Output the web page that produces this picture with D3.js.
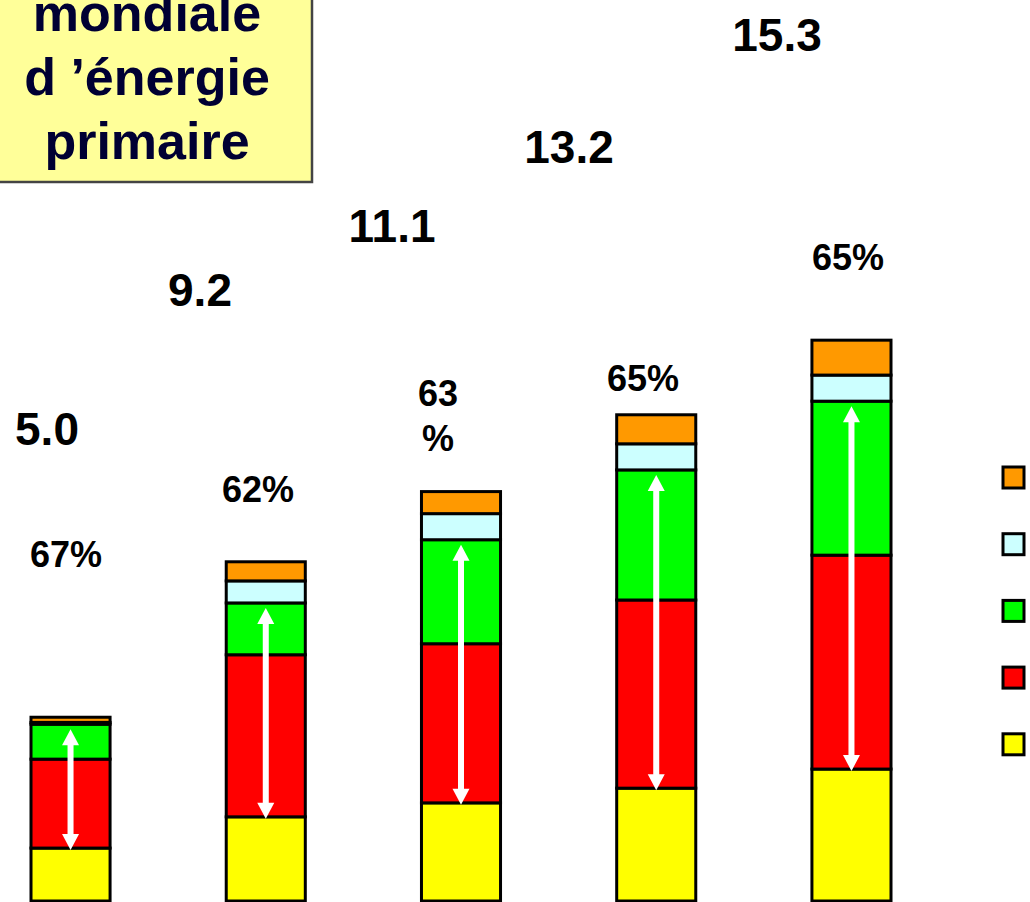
<!DOCTYPE html>
<html>
<head>
<meta charset="utf-8">
<script src="https://cdn.jsdelivr.net/npm/d3@7"></script>
<style>
  html, body { margin: 0; padding: 0; background: #ffffff; }
  svg { display: block; }
</style>
</head>
<body>
<svg id="chart" width="1030" height="902"></svg>
<script>
// ---- Data (Gtep) ----
const categories = ["1971", "2000", "2010", "2020", "2030"];
const seriesNames = ["Charbon", "Pétrole", "Gaz", "Nucléaire", "Hydro / renouvelables"];
const charbon     = [1.44, 2.29, 2.67, 3.07, 3.59];
const petrole     = [2.42, 4.41, 4.33, 5.12, 5.82];
const gaz         = [0.95, 1.41, 2.83, 3.54, 4.19];
const nucleaire   = [0.05, 0.60, 0.71, 0.71, 0.71];
const renouvel    = [0.14, 0.52, 0.60, 0.79, 0.95];
const totalLabels = ["5.0", "9.2", "11.1", "13.2", "15.3"];
const shareLabels = [["67%"], ["62%"], ["63", "%"], ["65%"], ["65%"]];
const titleLines  = ["mondiale", "d \u2019énergie", "primaire"];

// ---- Layout / style (kept apart from data) ----
const colors = ["#ffff00", "#ff0000", "#00ff00", "#ccffff", "#ff9900"];
// annotation anchor positions (px) for the free-floating labels
const totalPos = [[47, 445], [200, 306], [392, 242], [569, 163], [777, 51]];
const sharePos = [[66, 567], [258, 502], [438, 406], [643, 391], [848, 270]];

const svg = d3.select("#chart");

// ---- Title box ----
const tg = svg.append("g");
tg.append("rect")
  .attr("x", -10).attr("y", -10).attr("width", 322).attr("height", 192)
  .attr("fill", "#ffff99").attr("stroke", "#444444").attr("stroke-width", 2.5);
tg.selectAll("text").data(titleLines).join("text")
  .attr("x", 147).attr("y", (d, i) => 31 + i * 64)
  .attr("text-anchor", "middle")
  .attr("font-family", "Liberation Sans, Arial, sans-serif")
  .attr("font-weight", "bold").attr("font-size", 52)
  .attr("fill", "#000033")
  .text(d => d);

// ---- Scales ----
const x = d3.scaleBand().domain(categories).range([31, 891]).paddingInner(0.595).paddingOuter(0);
const y = d3.scaleLinear().domain([0, 15.3]).range([901, 338.7]);

const rows = categories.map((c, i) => ({
  cat: c,
  [seriesNames[0]]: charbon[i],
  [seriesNames[1]]: petrole[i],
  [seriesNames[2]]: gaz[i],
  [seriesNames[3]]: nucleaire[i],
  [seriesNames[4]]: renouvel[i]
}));
const stacked = d3.stack().keys(seriesNames)(rows);

// ---- Bars ----
const bars = svg.append("g");
bars.selectAll("g").data(stacked).join("g")
  .attr("fill", (d, i) => colors[i])
  .selectAll("rect").data(d => d).join("rect")
  .attr("x", d => x(d.data.cat))
  .attr("width", x.bandwidth())
  .attr("y", d => y(d[1]))
  .attr("height", d => y(d[0]) - y(d[1]))
  .attr("stroke", "#000").attr("stroke-width", 3);

// ---- Double arrows over oil + gas ----
const ag = svg.append("g");
categories.forEach((c, i) => {
  const cx = x(c) + x.bandwidth() / 2;
  const yTop = y(charbon[i] + petrole[i] + gaz[i]) + 5;
  const yBot = y(charbon[i]) + 2;
  const hh = 16, hw = 8.5;
  ag.append("rect")
    .attr("x", cx - 3).attr("y", yTop + hh - 1)
    .attr("width", 6).attr("height", yBot - yTop - 2 * hh + 2)
    .attr("fill", "#ffffff");
  ag.append("path")
    .attr("d", `M${cx},${yTop} L${cx - hw},${yTop + hh} L${cx + hw},${yTop + hh} Z`)
    .attr("fill", "#ffffff");
  ag.append("path")
    .attr("d", `M${cx},${yBot} L${cx - hw},${yBot - hh} L${cx + hw},${yBot - hh} Z`)
    .attr("fill", "#ffffff");
});

// ---- Total labels ----
svg.append("g").selectAll("text").data(totalLabels).join("text")
  .attr("x", (d, i) => totalPos[i][0]).attr("y", (d, i) => totalPos[i][1])
  .attr("text-anchor", "middle")
  .attr("font-family", "Liberation Sans, Arial, sans-serif")
  .attr("font-weight", "bold").attr("font-size", 46)
  .attr("fill", "#000")
  .text(d => d);

// ---- Share labels ----
const sg = svg.append("g");
shareLabels.forEach((lines, i) => {
  lines.forEach((t, j) => {
    sg.append("text")
      .attr("x", sharePos[i][0]).attr("y", sharePos[i][1] + j * 45)
      .attr("text-anchor", "middle")
      .attr("font-family", "Liberation Sans, Arial, sans-serif")
      .attr("font-weight", "bold").attr("font-size", 36)
      .attr("fill", "#000")
      .text(t);
  });
});

// ---- Legend swatches (labels lie outside the visible frame) ----
const legendOrder = [4, 3, 2, 1, 0];
svg.append("g").selectAll("rect").data(legendOrder).join("rect")
  .attr("x", 1003).attr("y", (d, k) => 467 + k * 66.7)
  .attr("width", 21).attr("height", 21)
  .attr("fill", d => colors[d])
  .attr("stroke", "#000").attr("stroke-width", 3);
</script>
</body>
</html>
